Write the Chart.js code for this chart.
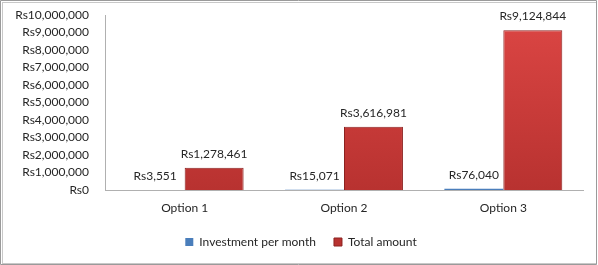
<!DOCTYPE html>
<html><head><meta charset="utf-8">
<script src="https://cdn.jsdelivr.net/npm/chart.js@4"></script>
<style>html,body{margin:0;padding:0;background:#fff}#wrap{width:598px;height:265px;position:relative}</style>
</head><body><div id="wrap"><canvas id="c" width="598" height="265"></canvas></div>
<script>
const categories = ["Option 1", "Option 2", "Option 3"];
const investmentPerMonth = [3551, 15071, 76040];
const totalAmount = [1278461, 3616981, 9124844];
const seriesNames = ["Investment per month", "Total amount"];
const yMax = 10000000, yStep = 1000000;

const FONT = "Lato";
const fmt = v => "Rs" + v.toLocaleString("en-US");

const frame = {
  id: "frame",
  beforeDraw(chart) {
    const ctx = chart.ctx;
    ctx.save();
    ctx.fillStyle = "#fff";
    ctx.fillRect(0, 0, chart.width, chart.height);
    ctx.strokeStyle = "#c8c8c8";
    ctx.lineWidth = 1;
    ctx.strokeRect(2.5, 2.5, 594, 261);
    ctx.strokeStyle = "#9a9a9a";
    ctx.beginPath();
    ctx.moveTo(0.5, 0.5); ctx.lineTo(596.5, 0.5); ctx.lineTo(596.5, 264.5); ctx.lineTo(0.5, 264.5); ctx.closePath();
    ctx.stroke();
    ctx.restore();
  }
};

const labels = {
  id: "barLabels",
  afterDatasetsDraw(chart) {
    const ctx = chart.ctx;
    ctx.save();
    ctx.font = "12px " + FONT;
    ctx.fillStyle = "#262626";
    ctx.textAlign = "center";
    ctx.textBaseline = "middle";
    chart.data.datasets.forEach((ds, i) => {
      chart.getDatasetMeta(i).data.forEach((bar, j) => {
        ctx.fillText(fmt(ds.data[j]), bar.x, bar.y - 14);
      });
    });
    ctx.restore();
  }
};

function redGrad(c) {
  const chart = c.chart;
  const a = chart.chartArea;
  if (!a) return "#c94040";
  const g = chart.ctx.createLinearGradient(0, a.top, 0, a.bottom);
  g.addColorStop(0, "#dc4644");
  g.addColorStop(1, "#b83230");
  return g;
}

new Chart(document.getElementById("c"), {
  type: "bar",
  data: {
    labels: categories,
    datasets: [
      { label: seriesNames[0], data: investmentPerMonth, backgroundColor: "#4a7ebb", borderColor: "#3a6aa6", borderWidth: 0, yAxisID: "y" },
      { label: seriesNames[1], data: totalAmount, backgroundColor: redGrad, borderColor: "#8c2220", borderWidth: 1, yAxisID: "y" }
    ]
  },
  options: {
    responsive: false,
    animation: false,
    devicePixelRatio: 1,
    layout: { padding: { left: 4, right: 0, top: 15, bottom: 7 } },
    datasets: { bar: { barPercentage: 1, categoryPercentage: 0.74 } },
    plugins: {
      tooltip: { enabled: false },
      legend: {
        position: "bottom",
        labels: { font: { family: FONT, size: 12 }, color: "#262626", boxWidth: 8, boxHeight: 8, padding: 18 }
      }
    },
    scales: {
      x: {
        grid: { display: false, drawTicks: false },
        border: { display: true, color: "#b0b0b0" },
        ticks: { font: { family: FONT, size: 12 }, color: "#262626", padding: 11 },
        afterFit(s) { s.height = 28; }
      },
      y: {
        min: 0, max: yMax,
        grid: { display: false, drawTicks: false },
        border: { display: true, color: "#b0b0b0" },
        ticks: { stepSize: yStep, autoSkip: false, font: { family: FONT, size: 12 }, color: "#262626", padding: 16, callback: v => fmt(v) },
        afterFit(s) { s.width = 101; s.paddingTop = 0; s.paddingBottom = 0; }
      },
      yRight: {
        position: "right",
        min: 0, max: yMax,
        grid: { display: false, drawTicks: false },
        border: { display: false },
        ticks: { display: false },
        afterFit(s) { s.width = 15; s.paddingTop = 0; s.paddingBottom = 0; }
      }
    }
  },
  plugins: [frame, labels]
});
</script></body></html>
